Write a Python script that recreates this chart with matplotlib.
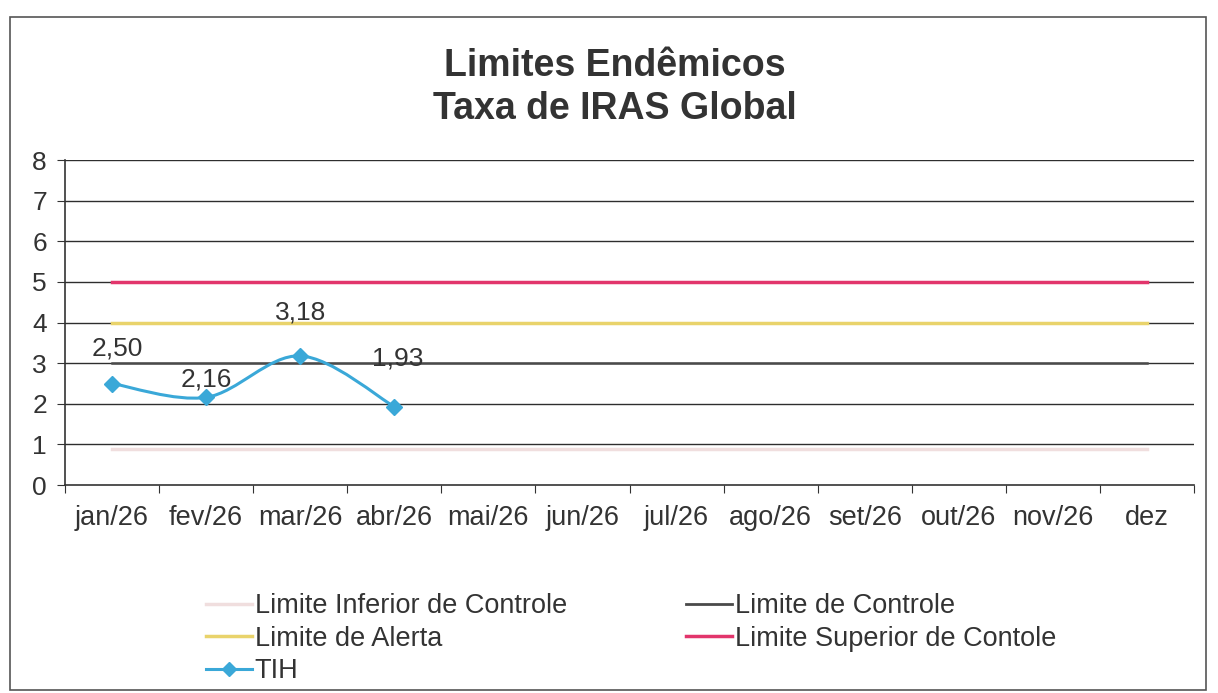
"""Limites endêmicos da taxa de IRAS global (recriação do gráfico)."""

import matplotlib

matplotlib.use("Agg")
import matplotlib.pyplot as plt
from matplotlib.lines import Line2D
from matplotlib.patches import PathPatch, Rectangle
from matplotlib.path import Path

MONTHS = ["jan/26", "fev/26", "mar/26", "abr/26", "mai/26", "jun/26",
          "jul/26", "ago/26", "set/26", "out/26", "nov/26", "dez"]
TIH = [2.50, 2.16, 3.18, 1.93]
TIH_LABELS = ["2,50", "2,16", "3,18", "1,93"]
LIMITE_INFERIOR = [0.88] * 12
LIMITE_CONTROLE = [3.0] * 12
LIMITE_ALERTA = [4.0] * 12
LIMITE_SUPERIOR = [5.0] * 12

C_INF = "#f0dede"
C_CTRL = "#4a4a4a"
C_ALERTA = "#e9d36b"
C_SUP = "#e2356c"
C_TIH = "#3aa8d8"
C_TEXT = "#333333"

plt.rcParams["font.family"] = ["Liberation Sans", "DejaVu Sans"]


def smooth_path(xs, ys, tension=1 / 6):
    """Bezier path through the points (Catmull-Rom style, like Excel smoothing)."""
    pts = list(zip(xs, ys))
    verts = [pts[0]]
    codes = [Path.MOVETO]
    for i in range(len(pts) - 1):
        p0 = pts[i - 1] if i > 0 else pts[i]
        p1 = pts[i]
        p2 = pts[i + 1]
        p3 = pts[i + 2] if i + 2 < len(pts) else pts[i + 1]
        c1 = (p1[0] + (p2[0] - p0[0]) * tension, p1[1] + (p2[1] - p0[1]) * tension)
        c2 = (p2[0] - (p3[0] - p1[0]) * tension, p2[1] - (p3[1] - p1[1]) * tension)
        verts += [c1, c2, p2]
        codes += [Path.CURVE4] * 3
    return Path(verts, codes)


fig = plt.figure(figsize=(12.18, 6.93), dpi=100)
fig.patch.set_facecolor("white")
fig.patches.append(Rectangle((0.008, 0.005), 0.982, 0.97, transform=fig.transFigure,
                             fill=False, edgecolor="#555555", linewidth=1.2))

ax = fig.add_axes([0.0534, 0.300, 0.927, 0.469])
x = list(range(len(MONTHS)))

for y in range(1, 9):
    ax.axhline(y, color="#2e2e2e", linewidth=1.0, zorder=1)

ax.plot(x, LIMITE_INFERIOR, color=C_INF, linewidth=2.5, zorder=2)
ax.plot(x, LIMITE_CONTROLE, color=C_CTRL, linewidth=1.8, zorder=2)
ax.plot(x, LIMITE_ALERTA, color=C_ALERTA, linewidth=2.5, zorder=2)
ax.plot(x, LIMITE_SUPERIOR, color=C_SUP, linewidth=2.5, zorder=2)

tx = x[:len(TIH)]
ax.add_patch(PathPatch(smooth_path(tx, TIH), facecolor="none", edgecolor=C_TIH,
                       linewidth=2.2, zorder=3))
ax.plot(tx, TIH, linestyle="none", marker="D", markersize=8, color=C_TIH, zorder=4)

# label offsets in pixels, as placed in the original
label_offsets = [(5, 35), (0, 18), (0, 43), (3, 48)]
for xi, yi, lab, off in zip(tx, TIH, TIH_LABELS, label_offsets):
    ax.annotate(lab, (xi, yi), xytext=off, textcoords="offset pixels",
                ha="center", va="center", fontsize=19, color=C_TEXT, zorder=5)

ax.set_xlim(-0.5, len(MONTHS) - 0.5)
ax.set_ylim(0, 8)
ax.set_yticks(range(0, 9))
ax.set_xticks([i - 0.5 for i in range(len(MONTHS) + 1)])
ax.set_xticklabels([])
ax.set_xticks(x, minor=True)
ax.set_xticklabels(MONTHS, minor=True)
ax.tick_params(axis="x", which="major", length=6, direction="out", color=C_TEXT)
ax.tick_params(axis="x", which="minor", length=0, labelsize=19.5, pad=14, labelcolor=C_TEXT)
ax.tick_params(axis="y", length=6, direction="out", labelsize=19, pad=7,
               color=C_TEXT, labelcolor=C_TEXT)
for side in ("top", "right"):
    ax.spines[side].set_visible(False)
for side in ("left", "bottom"):
    ax.spines[side].set_color(C_TEXT)
    ax.spines[side].set_linewidth(1.2)

fig.text(0.505, 0.905, "Limites Endêmicos", ha="center", va="center",
         fontsize=27, fontweight="bold", color=C_TEXT)
fig.text(0.505, 0.843, "Taxa de IRAS Global", ha="center", va="center",
         fontsize=27, fontweight="bold", color=C_TEXT)

handles = [
    Line2D([], [], color=C_INF, linewidth=2.5),
    Line2D([], [], color=C_ALERTA, linewidth=2.5),
    Line2D([], [], color=C_TIH, linewidth=2.2, marker="D", markersize=7),
    Line2D([], [], color=C_CTRL, linewidth=2.0),
    Line2D([], [], color=C_SUP, linewidth=2.5),
]
labels = ["Limite Inferior de Controle", "Limite de Alerta", "TIH",
          "Limite de Controle", "Limite Superior de Contole"]
fig.legend(handles, labels, ncol=2, loc="upper left", bbox_to_anchor=(0.169, 0.144),
           bbox_transform=fig.transFigure, frameon=False, fontsize=19.5,
           handlelength=1.7, handletextpad=0.1, labelspacing=0.24,
           columnspacing=4.4, borderpad=0, borderaxespad=0, labelcolor=C_TEXT)

fig.savefig("out.png", dpi=100, facecolor="white")
